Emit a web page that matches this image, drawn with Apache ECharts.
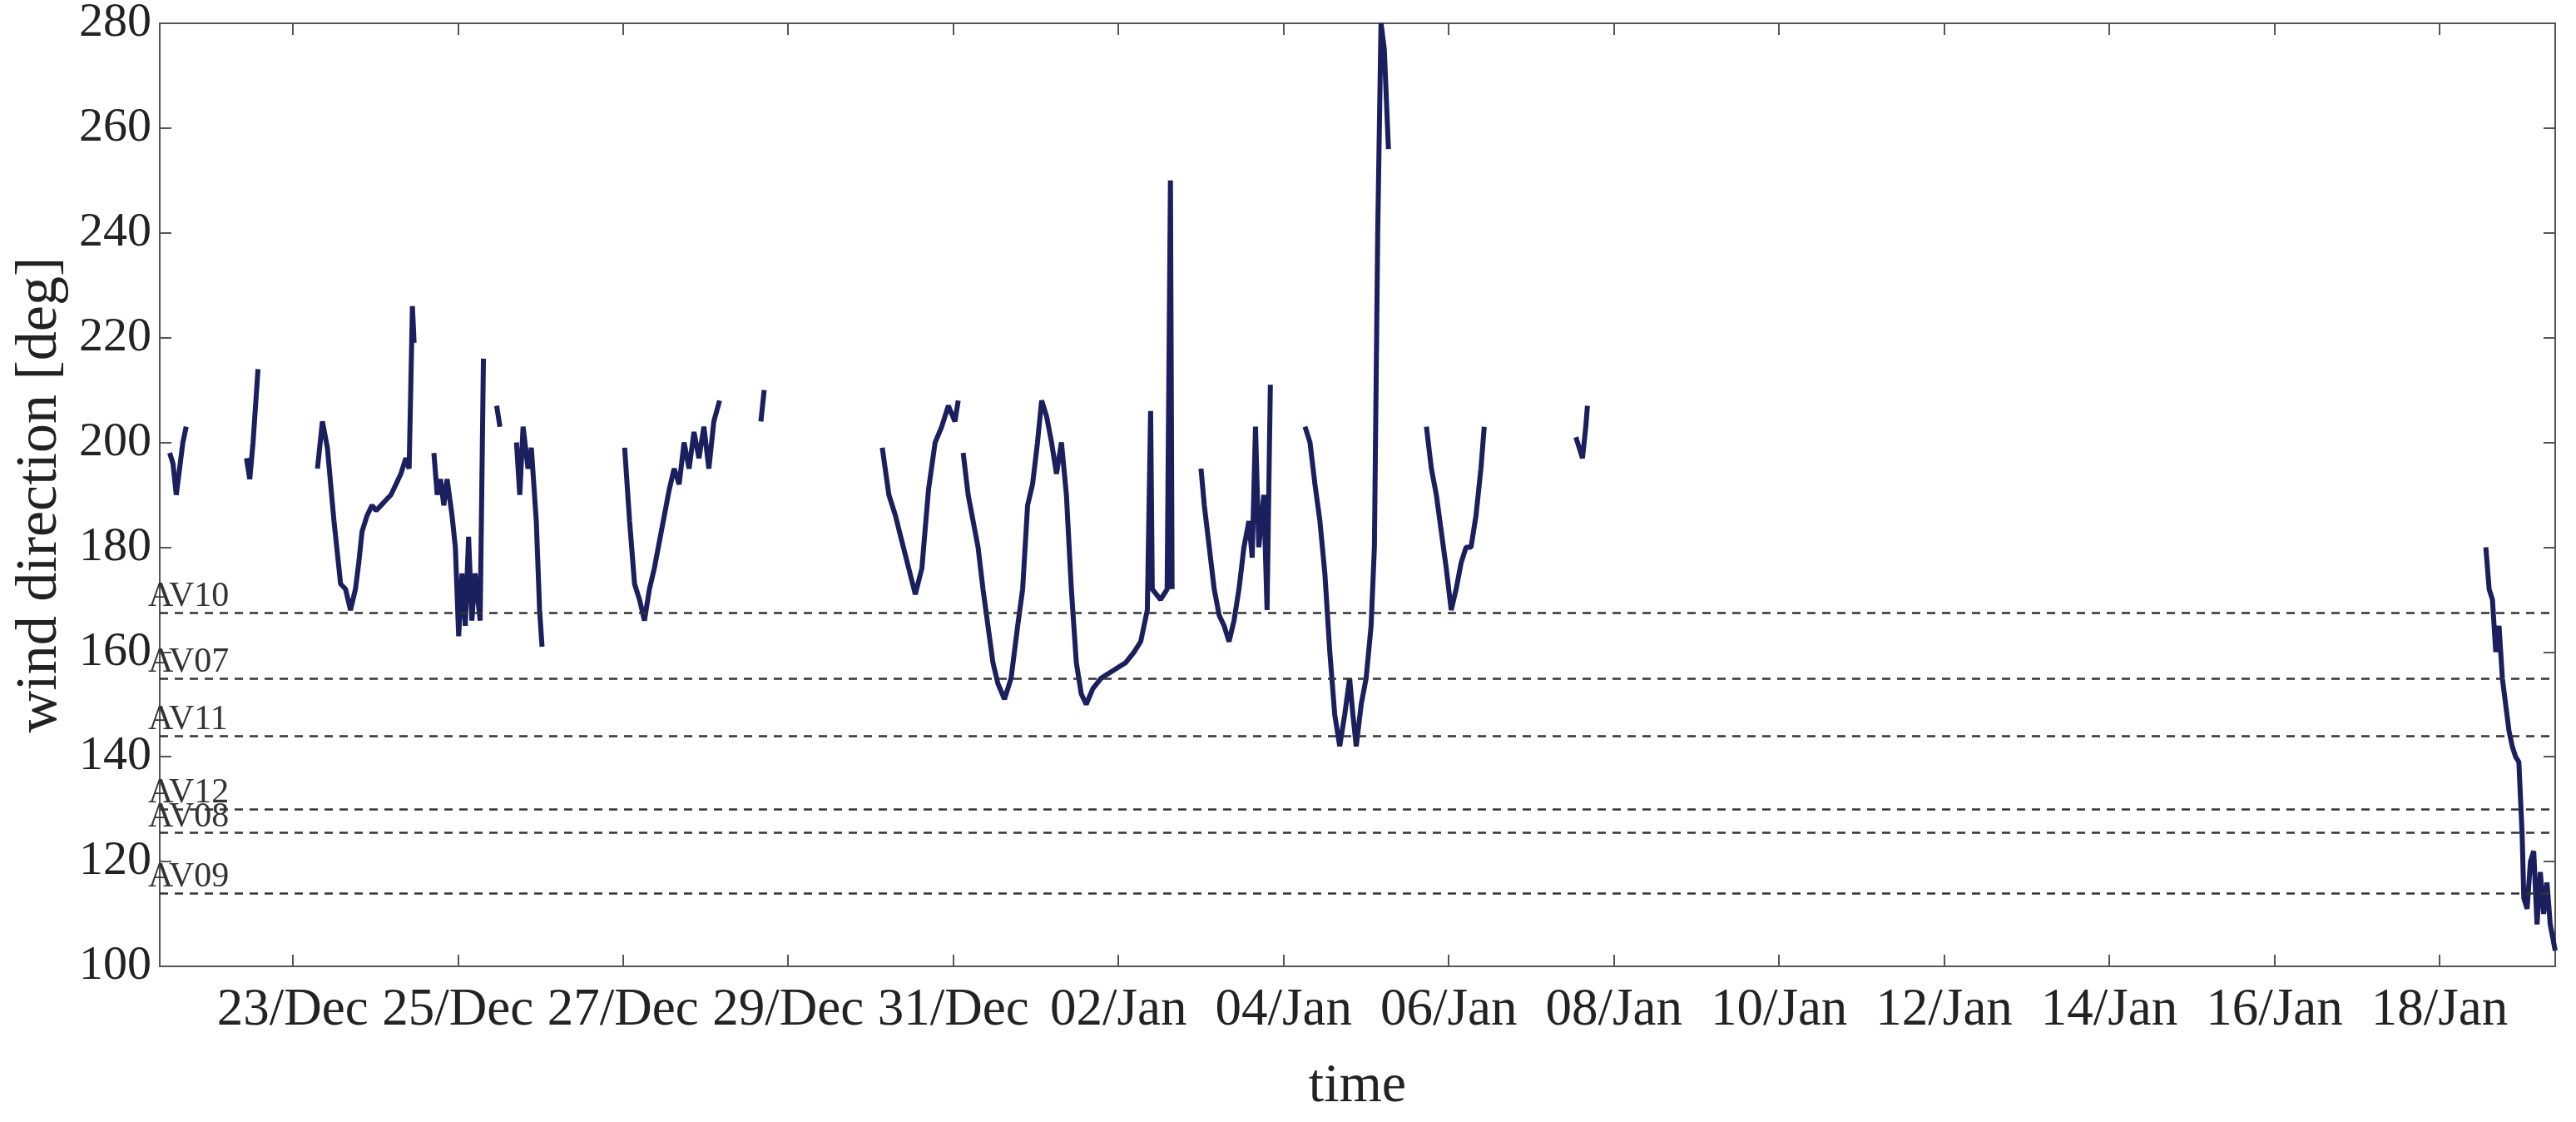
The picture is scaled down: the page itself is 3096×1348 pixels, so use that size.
<!DOCTYPE html><html><head><meta charset="utf-8"><script src="https://cdn.jsdelivr.net/npm/echarts@6/dist/echarts.min.js"></script>
<style>html,body{margin:0;background:#fff}#c{width:3096px;height:1348px}</style></head><body><div id="c"></div><script>
// x = days since 23/Dec 00:00
const tickDays=[0,2,4,6,8,10,12,14,16,18,20,22,24,26];
const tickLabels=['23/Dec','25/Dec','27/Dec','29/Dec','31/Dec','02/Jan','04/Jan','06/Jan','08/Jan','10/Jan','12/Jan','14/Jan','16/Jan','18/Jan'];
const refNames=['AV10','AV07','AV11','AV12','AV08','AV09'];
const refValues=[167.5,155,144,130,125.5,114];
const seg1=[[-1.49,198],[-1.45,196],[-1.41,190],[-1.37,195],[-1.33,200],[-1.29,203]];
const seg2=[[-0.56,197],[-0.52,193],[-0.48,200],[-0.42,214]];
const seg3=[[0.30,195],[0.36,204],[0.42,199],[0.50,185],[0.58,173],[0.64,172],[0.70,168],[0.76,172],[0.80,177],[0.84,183],[0.90,186],[0.96,188],[1.01,187],[1.07,188],[1.13,189],[1.19,190],[1.25,192],[1.31,194],[1.37,197],[1.41,195],[1.45,226],[1.47,219]];
const seg4=[[1.71,198],[1.75,190],[1.79,193],[1.83,188],[1.87,193],[1.93,186],[1.97,180],[2.01,163],[2.05,175],[2.09,165],[2.13,182],[2.17,166],[2.21,175],[2.27,166],[2.31,216]];
const seg5=[[2.47,207],[2.51,203]];
const seg6=[[2.71,200],[2.75,190],[2.79,203],[2.85,195],[2.89,199],[2.95,185],[2.99,168],[3.02,161]];
const seg7=[[4.02,199],[4.08,185],[4.14,173],[4.20,170],[4.26,166],[4.32,172],[4.38,176],[4.44,181],[4.50,186],[4.56,191],[4.62,195],[4.68,192],[4.74,200],[4.80,195],[4.86,202],[4.92,197],[4.98,203],[5.04,195],[5.10,204],[5.17,208]];
const seg8=[[5.67,204],[5.71,210]];
const seg9=[[7.14,199],[7.22,190],[7.30,186],[7.38,181],[7.46,176],[7.54,171],[7.62,176],[7.70,191],[7.78,200],[7.86,203],[7.94,207],[8.02,204],[8.06,208]];
const seg10=[[8.12,198],[8.18,190],[8.24,185],[8.30,180],[8.36,172],[8.42,165],[8.48,158],[8.54,154],[8.62,151],[8.70,155],[8.78,165],[8.84,172],[8.90,188],[8.96,192],[9.02,200],[9.07,208],[9.13,205],[9.19,200],[9.25,194],[9.31,200],[9.37,190],[9.43,172],[9.49,158],[9.55,152],[9.61,150],[9.69,153],[9.79,155],[9.89,156],[9.99,157],[10.09,158],[10.19,160],[10.27,162],[10.35,168],[10.39,206],[10.41,172],[10.51,170],[10.59,172],[10.63,250],[10.65,172]];
const seg11=[[11.00,195],[11.04,188],[11.10,180],[11.16,172],[11.22,167],[11.28,165],[11.34,162],[11.40,166],[11.46,172],[11.52,180],[11.58,185],[11.62,178],[11.66,203],[11.70,180],[11.76,190],[11.80,168],[11.84,211]];
const seg12=[[12.26,203],[12.32,200],[12.38,192],[12.44,185],[12.50,175],[12.56,160],[12.62,148],[12.68,142],[12.74,148],[12.80,155],[12.84,148],[12.88,142],[12.94,150],[13.00,155],[13.06,165],[13.10,180],[13.14,240],[13.18,280],[13.22,275],[13.27,256]];
const seg13=[[13.73,203],[13.79,195],[13.85,190],[13.91,183],[13.97,176],[14.03,168],[14.09,172],[14.15,177],[14.21,180],[14.27,180],[14.33,186],[14.39,195],[14.43,203]];
const seg14=[[15.54,201],[15.58,199],[15.62,197],[15.66,203],[15.68,207]];
const seg15=[[26.56,180],[26.60,172],[26.64,170],[26.68,160],[26.72,165],[26.76,155],[26.80,150],[26.84,145],[26.88,142],[26.92,140],[26.96,139],[27.00,125],[27.02,113],[27.06,111],[27.10,120],[27.14,122],[27.18,108],[27.22,118],[27.26,110],[27.30,116],[27.34,108],[27.40,103]];
const segments=[seg1,seg2,seg3,seg4,seg5,seg6,seg7,seg8,seg9,seg10,seg11,seg12,seg13,seg14,seg15];
const data=[];segments.forEach((s,i)=>{if(i)data.push([s[0][0]-0.01,null]);s.forEach(p=>data.push(p));});
const F='Liberation Serif';
const chart=echarts.init(document.getElementById('c'));
const ax={type:'value',min:-1.61,max:27.4,splitLine:{show:false},axisLine:{onZero:false,lineStyle:{color:'#555',width:2}},
 axisTick:{inside:true,length:14,customValues:tickDays,lineStyle:{color:'#555',width:2}}};
const ay={type:'value',min:100,max:280,interval:20,splitLine:{show:false},
 axisLine:{onZero:false,lineStyle:{color:'#555',width:2}},axisTick:{inside:true,length:14,lineStyle:{color:'#555',width:2}}};
chart.setOption({
 animation:false,
 grid:{left:192,right:25,top:28,bottom:187,show:true,borderColor:'#555',borderWidth:2,outerBoundsMode:'none',containLabel:false},
 xAxis:[Object.assign({},ax,{name:'time',nameLocation:'middle',nameGap:112,nameTextStyle:{fontFamily:F,fontSize:66,color:'#222'},
   axisLabel:{customValues:tickDays,formatter:v=>tickLabels[tickDays.indexOf(Math.round(v))]||'',fontFamily:F,fontSize:63,color:'#222',margin:22}}),
   Object.assign({},ax,{position:'top',axisLabel:{show:false}})],
 yAxis:[Object.assign({},ay,{name:'wind direction [deg]',nameLocation:'middle',nameGap:108,
   nameTextStyle:{fontFamily:F,fontSize:70,color:'#222'},axisLabel:{fontFamily:F,fontSize:58,color:'#222',margin:10}}),
  Object.assign({},ay,{position:'right',axisLabel:{show:false}})],
 series:[{type:'line',data:data,showSymbol:false,connectNulls:false,lineStyle:{color:'#1a1f5e',width:6},
   markLine:{silent:true,symbol:'none',lineStyle:{type:[10,8],color:'#333',width:2.5},
    label:{position:'insideStartTop',formatter:'{b}',fontFamily:F,fontSize:42,color:'#333',distance:[-14,-2]},
    data:refNames.map((n,i)=>({name:n,yAxis:refValues[i]}))}}]
});
</script></body></html>
